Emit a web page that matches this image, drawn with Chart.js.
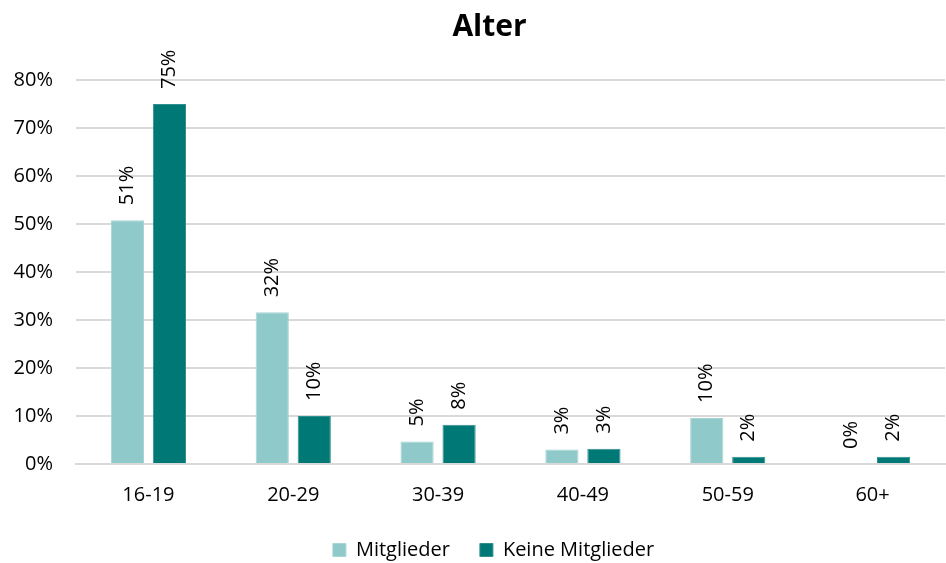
<!DOCTYPE html>
<html>
<head>
<meta charset="utf-8">
<script src="https://cdn.jsdelivr.net/npm/chart.js@4.4.0/dist/chart.umd.min.js"></script>
<style>
  html, body { margin: 0; padding: 0; background: #fff; }
  #wrap { width: 946px; height: 563px; }
</style>
</head>
<body>
<div id="wrap"><canvas id="alterChart" width="946" height="563"></canvas></div>
<script>
var ageGroups = ["16-19", "20-29", "30-39", "40-49", "50-59", "60+"];
var mitglieder = [50.8, 31.6, 4.7, 3.0, 9.6, 0];
var keineMitglieder = [75.0, 10.0, 8.2, 3.2, 1.5, 1.5];
var yTicks = [0, 10, 20, 30, 40, 50, 60, 70, 80];

var FONT = "'Open Sans', 'Noto Sans', sans-serif";

// fixed legend height so the plot reaches further down
Chart.register({
    id: 'legendHeight',
    beforeInit: function (chart) {
        var fit = chart.legend.fit;
        chart.legend.fit = function () {
            fit.call(this);
            this.height = 53;
        };
    }
});

// centre title and legend a little right of the canvas middle
Chart.register({
    id: 'boxShift',
    afterLayout: function (chart) {
        chart.titleBlock.left += 34;
        chart.legend.left += 21;
        chart.legend.right += 21;
    }
});

// percent labels written upright above every bar
Chart.register({
    id: 'verticalValueLabels',
    afterDatasetsDraw: function (chart) {
        var ctx = chart.ctx;
        ctx.save();
        ctx.fillStyle = '#000';
        ctx.font = '20px ' + FONT;
        ctx.textAlign = 'left';
        ctx.textBaseline = 'middle';
        chart.data.datasets.forEach(function (ds, i) {
            chart.getDatasetMeta(i).data.forEach(function (bar, j) {
                ctx.save();
                ctx.translate(bar.x, bar.y - 15);
                ctx.rotate(-Math.PI / 2);
                ctx.fillText(Math.round(ds.data[j]) + '%', 0, 0);
                ctx.restore();
            });
        });
        ctx.restore();
    }
});

var ctx = document.getElementById("alterChart").getContext('2d');
var alterChart = new Chart(ctx, {
    type: 'bar',
    data: {
        labels: ageGroups,
        datasets: [{
            label: "Mitglieder",
            data: mitglieder,
            backgroundColor: "#8FC9C9",
            borderColor: "#A6D4D4",
            borderWidth: 1
        }, {
            label: "Keine Mitglieder",
            data: keineMitglieder,
            backgroundColor: "#007976",
            borderColor: "#2E8F8C",
            borderWidth: 1
        }]
    },
    options: {
        responsive: false,
        animation: false,
        layout: { padding: { left: 0, right: 1, top: 0, bottom: 0 } },
        datasets: {
            bar: { categoryPercentage: 0.58, barPercentage: 0.79 }
        },
        plugins: {
            title: {
                display: true,
                text: "Alter",
                color: '#000',
                font: { family: FONT, size: 30, weight: 'bold' },
                padding: { top: 9, bottom: 35 }
            },
            legend: {
                position: 'bottom',
                labels: {
                    color: '#000',
                    font: { family: FONT, size: 20 },
                    boxWidth: 13,
                    boxHeight: 13,
                    padding: 30
                }
            },
            tooltip: { enabled: false }
        },
        scales: {
            x: {
                grid: { display: false },
                border: { color: '#d9d9d9', width: 2 },
                ticks: { color: '#000', font: { family: FONT, size: 20 }, padding: 11 },
                afterFit: function (axis) {
                    axis.height = 46;
                }
            },
            y: {
                min: 0,
                max: 80,
                afterBuildTicks: function (axis) {
                    axis.ticks = yTicks.map(function (v) { return { value: v }; });
                },
                afterFit: function (axis) {
                    axis.width = 76;
                },
                grid: { color: '#d9d9d9', lineWidth: 2, drawTicks: false },
                border: { display: false },
                ticks: {
                    color: '#000',
                    font: { family: FONT, size: 20 },
                    padding: 23,
                    callback: function (v) { return v + '%'; }
                }
            }
        }
    }
});
</script>
</body>
</html>
